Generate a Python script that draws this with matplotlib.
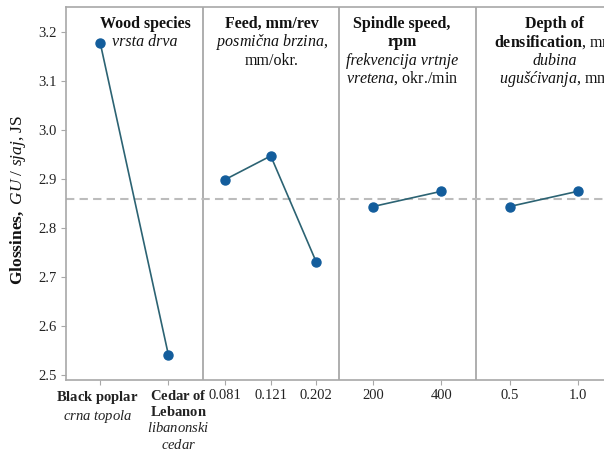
import numpy as np
import matplotlib as mpl
import matplotlib.pyplot as plt
import matplotlib.transforms as mtrans

mpl.rcParams['font.family'] = ['Liberation Serif', 'DejaVu Serif']
mpl.rcParams['mathtext.fontset'] = 'custom'
mpl.rcParams['mathtext.rm'] = 'Liberation Serif'
mpl.rcParams['mathtext.it'] = 'Liberation Serif:italic'
mpl.rcParams['mathtext.bf'] = 'Liberation Serif:bold'

# main effects for glossiness (GU)
wood_levels = [r'$\mathbf{Black\ poplar}$' + '\n' + r'$\mathit{crna\ topola}$',
               r'$\mathbf{Cedar\ of}$' + '\n' + r'$\mathbf{Lebanon}$' + '\n'
               + r'$\mathit{libanonski}$' + '\n' + r'$\mathit{cedar}$']
wood_gloss = [3.178, 2.542]
feed_levels = ['0.081', '0.121', '0.202']
feed_gloss = [2.899, 2.947, 2.731]
speed_levels = ['200', '400']
speed_gloss = [2.844, 2.875]
depth_levels = ['0.5', '1.0']
depth_gloss = [2.844, 2.875]
mean_gloss = 2.859

# header lines: (text, weight, style)
headers = [
    [('Wood species', 'bold', 'normal'), ('vrsta drva', 'normal', 'italic')],
    [('Feed, mm/rev', 'bold', 'normal'), (r'$\mathit{posmična\ brzina}$,', 'normal', 'normal'),
     ('mm/okr.', 'normal', 'normal')],
    [('Spindle speed,', 'bold', 'normal'), ('rpm', 'bold', 'normal'),
     ('frekvencija vrtnje', 'normal', 'italic'), (r'$\mathit{vretena}$, okr./min', 'normal', 'normal')],
    [('Depth of', 'bold', 'normal'), (r'$\mathbf{densification}$, mm', 'normal', 'normal'),
     ('dubina', 'normal', 'italic'), (r'$\mathit{ugušćivanja}$, mm', 'normal', 'normal')],
]
header_x = [0.579, 1.509, 2.46, 3.58]
header_y = [0.9435, 0.8945, 0.845, 0.796]

panels = [(wood_levels, wood_gloss), (feed_levels, feed_gloss),
          (speed_levels, speed_gloss), (depth_levels, depth_gloss)]

fig = plt.figure(figsize=(6.04, 4.5), dpi=100)
ax = fig.add_axes([66 / 604, 70 / 450, 546 / 604, 373 / 450])

line_col = '#2c6373'
dot_col = '#135d9c'
grey = '#a8a8a8'

ticks, labels = [], []
for i, (levels, vals) in enumerate(panels):
    n = len(levels)
    xs = i + (np.arange(n) + 0.5) / n
    ax.plot(xs, vals, color=line_col, lw=1.2, zorder=3)
    ax.plot(xs, vals, 'o', color=dot_col, ms=6.5, zorder=4)
    ticks += list(xs)
    labels += list(levels)
    if i > 0:
        ax.axvline(i, color=grey, lw=1.3, zorder=1)

ax.axhline(mean_gloss, color='#bcbcbc', lw=1.5, ls=(0, (4, 2.5)), zorder=2)

trans = ax.get_xaxis_transform()
for hx, lines in zip(header_x, headers):
    for k, (txt, w, st) in enumerate(lines):
        ax.text(hx, header_y[k], txt, transform=trans, ha='center', va='baseline',
                fontsize=11.5, fontweight=w, fontstyle=st, color='#111111')

ax.set_xlim(0, 4)
ax.set_ylim(2.4907, 3.2503)
ax.set_yticks(np.arange(2.5, 3.21, 0.1))
ax.set_yticklabels(['%.1f' % v for v in np.arange(2.5, 3.21, 0.1)])
ax.set_xticks(ticks)
ax.set_xticklabels(labels)
ax.tick_params(axis='both', labelsize=10.5, colors=grey, labelcolor='#222222',
               length=3.5, width=0.8)
ax.tick_params(axis='x', pad=3)
for s in ax.spines.values():
    s.set_color(grey)
    s.set_linewidth(1.2)

# nudge the wood species labels sideways
xt = ax.get_xticklabels()
for lab, dx in zip(xt[:2], [-3, 10]):
    lab.set_transform(lab.get_transform() + mtrans.ScaledTranslation(dx / 100, 0, fig.dpi_scale_trans))

fig.text(0.03, 0.555, r'$\mathbf{Glossines,}$ $\mathit{GU\ /\ sjaj}$, JS', rotation=90,
         ha='center', va='center', fontsize=12.5, color='#111111')

plt.savefig('out.png', dpi=100)
